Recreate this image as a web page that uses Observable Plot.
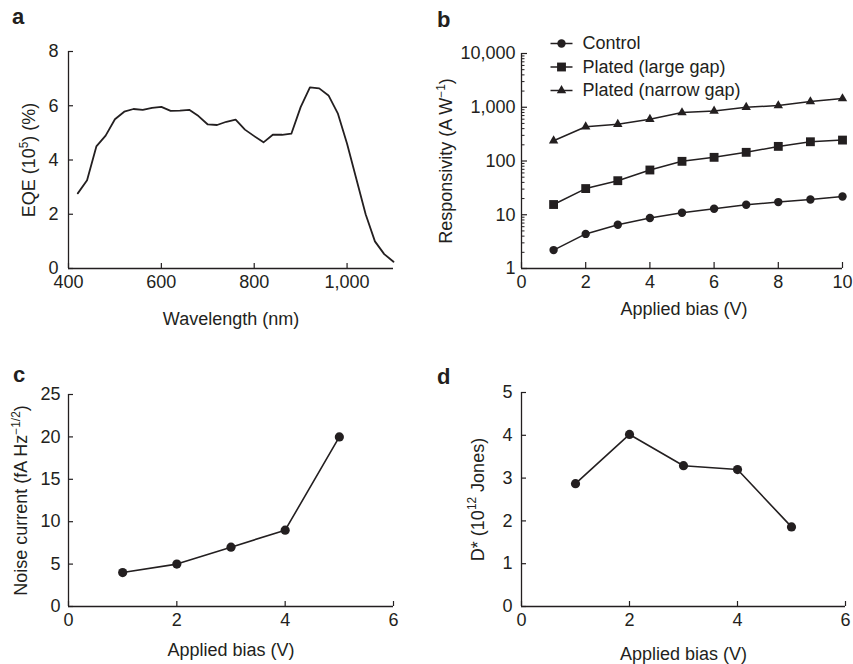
<!DOCTYPE html>
<html><head><meta charset="utf-8">
<script src="https://cdn.jsdelivr.net/npm/d3@7"></script>
<script src="https://cdn.jsdelivr.net/npm/@observablehq/plot@0.6"></script>
<style>
html,body{margin:0;padding:0;background:#fff;}
#fig{position:relative;width:853px;height:664px;font-family:"Liberation Sans",Arial,Helvetica,sans-serif;color:#231f20;overflow:hidden;background:#fff}
.panel{position:absolute}
.letter{position:absolute;font-weight:bold;font-size:22px;line-height:22px}
</style></head><body><div id="fig"></div>
<script>
// ---------- data ----------
// Panel a: EQE spectrum
const wavelength = [420,440,460,480,500,520,540,560,580,600,620,640,660,680,700,720,740,760,780,800,820,840,860,880,900,920,940,960,980,1000,1020,1040,1060,1080,1100];
const eqe = [2.77,3.25,4.5,4.9,5.5,5.78,5.88,5.85,5.92,5.96,5.81,5.82,5.85,5.62,5.31,5.29,5.41,5.49,5.12,4.88,4.65,4.93,4.93,4.97,5.95,6.68,6.64,6.38,5.72,4.6,3.3,2.0,1.0,0.53,0.25];

// Panel b: responsivity vs bias
const seriesNames = ["Control", "Plated (large gap)", "Plated (narrow gap)"];
const biasB = [1,2,3,4,5,6,7,8,9,10];
const respControl = [2.2,4.4,6.5,8.7,10.9,12.9,15.3,17.2,19.2,21.9];
const respLarge = [15.5,30.7,43,68,98.6,117,145,187,228,245];
const respNarrow = [238,433,484,600,796,855,1000,1073,1273,1450];

// Panel c: noise current
const biasC = [1,2,3,4,5];
const noise = [4,5,7,9,20];

// Panel d: detectivity
const biasD = [1,2,3,4,5];
const detectivity = [2.87,4.02,3.29,3.20,1.86];

// tick labels
const ticksAx = [400,600,800,1000], ticksAy = [0,2,4,6,8];
const ticksBx = [0,2,4,6,8,10], ticksBy = [1,10,100,1000,10000];
const ticksBminor = [0,1,2,3].flatMap(k => [2,3,4,5,6,7,8,9].map(m => m * 10 ** k));
const ticksCx = [0,2,4,6], ticksCy = [0,5,10,15,20,25];
const ticksDx = [0,2,4,6], ticksDy = [0,1,2,3,4,5];

// ---------- tables ----------
const eqeData = wavelength.map((w, i) => ({wavelength: w, eqe: eqe[i]}));
const respSeries = [respControl, respLarge, respNarrow];
const respData = respSeries.flatMap((vals, s) => vals.map((v, i) => ({series: seriesNames[s], bias: biasB[i], value: v})));
const noiseData = biasC.map((b, i) => ({bias: b, value: noise[i]}));
const detData = biasD.map((b, i) => ({bias: b, value: detectivity[i]}));

// ---------- style ----------
const INK = "#231f20";
const FONT = '"Liberation Sans", Arial, Helvetica, sans-serif';
const FS = 18;
const markerStyle = [{symbol: "circle", r: 4.2}, {symbol: "square", r: 5}, {symbol: "triangle", r: 3.5}];
const baseStyle = {fontFamily: FONT, color: INK, background: "transparent", overflow: "visible"};

function axes(xTicks, yTicks, {xPad = 7, yPad = 10, tick = 5, fmt = d3.format(",")} = {}) {
  return [
    Plot.axisX(xTicks, {anchor: "bottom", tickSize: tick, dy: -tick, tickPadding: xPad, tickFormat: fmt, fontSize: FS, strokeWidth: 1.2, label: null}),
    Plot.axisY(yTicks, {anchor: "left", tickSize: tick, dx: tick, tickPadding: yPad, tickFormat: fmt, fontSize: FS, strokeWidth: 1.2, label: null})
  ];
}
function titles(yTitle, yDx, xTitle, xDy, xDx = 0) {
  return [
    Plot.text([yTitle], {text: d => d, frameAnchor: "left", dx: yDx, rotate: -90, textAnchor: "middle", lineAnchor: "middle", fontSize: FS, fill: INK}),
    Plot.text([xTitle], {text: d => d, frameAnchor: "bottom", dx: xDx, dy: xDy, textAnchor: "middle", lineAnchor: "top", fontSize: FS, fill: INK})
  ];
}
function rich(svg, segs) {
  const plain = segs.map(s => s[0]).join("");
  d3.select(svg).selectAll("text").filter(function () { return this.textContent === plain; }).each(function () {
    const t = d3.select(this);
    t.text(null);
    let up = false;
    for (const [s, sup] of segs) {
      const ts = t.append("tspan").text(s);
      if (sup) { ts.attr("font-size", FS * 0.66); if (!up) { ts.attr("dy", -FS * 0.42); up = true; } }
      else if (up) { ts.attr("dy", FS * 0.42); up = false; }
    }
  });
}

const fig = document.getElementById("fig");
function place(el, left, top) {
  const d = document.createElement("div");
  d.className = "panel"; d.style.left = left + "px"; d.style.top = top + "px";
  d.appendChild(el); fig.appendChild(d);
}
function letter(ch, left, top) {
  const d = document.createElement("div");
  d.className = "letter"; d.textContent = ch; d.style.left = left + "px"; d.style.top = top + "px";
  fig.appendChild(d);
}

// ---------- panel a ----------
const segA = [["EQE (10", false], ["5", true], [") (%)", false]];
const plotA = Plot.plot({
  width: 420, height: 330, marginLeft: 68, marginRight: 27, marginTop: 51, marginBottom: 62,
  x: {domain: [400, 1100]}, y: {domain: [0, 8]}, style: baseStyle,
  marks: [
    Plot.ruleY([0], {stroke: INK, strokeWidth: 1.3}),
    Plot.ruleX([400], {stroke: INK, strokeWidth: 1.3}),
    ...axes(ticksAx, ticksAy, {yPad: 10}),
    Plot.line(eqeData, {x: "wavelength", y: "eqe", stroke: INK, strokeWidth: 1.8}),
    ...titles(segA.map(s => s[0]).join(""), -39, "Wavelength (nm)", 44)
  ]
});
rich(plotA, segA);
place(plotA, 0, 0);

// ---------- panel b ----------
const segB = [["Responsivity (A W", false], ["\u22121", true], [")", false]];
const legendLine = {draw(ctx, size) { const h = Math.sqrt(size / Math.PI); ctx.moveTo(-h, 0); ctx.lineTo(h, 0); }};
const legendDy = [-10, 13.5, 37];
const plotB = Plot.plot({
  width: 433, height: 330, marginLeft: 101, marginRight: 11, marginTop: 53, marginBottom: 62,
  x: {domain: [0, 10]}, y: {type: "log", domain: [1, 10000]}, style: baseStyle,
  marks: [
    Plot.ruleY([1], {stroke: INK, strokeWidth: 1.3}),
    Plot.ruleX([0], {stroke: INK, strokeWidth: 1.3}),
    ...axes(ticksBx, ticksBy, {yPad: 6, tick: 6}),
    Plot.axisY(ticksBminor, {anchor: "left", tickSize: 3.5, dx: 3.5, tickFormat: () => "", strokeWidth: 1, label: null}),
    Plot.line(respData, {x: "bias", y: "value", z: "series", stroke: INK, strokeWidth: 1.5}),
    ...seriesNames.map((name, s) => Plot.dot(respData.filter(d => d.series === name), {x: "bias", y: "value", symbol: markerStyle[s].symbol, r: markerStyle[s].r, fill: INK, stroke: "none"})),
    ...seriesNames.flatMap((name, i) => [
      Plot.dot([name], {frameAnchor: "top-left", dx: 40, dy: legendDy[i], symbol: legendLine, r: 11, stroke: INK, strokeWidth: 1.5, fill: "none"}),
      Plot.dot([name], {frameAnchor: "top-left", dx: 40, dy: legendDy[i], symbol: markerStyle[i].symbol, r: markerStyle[i].r, fill: INK, stroke: "none"}),
      Plot.text([name], {text: d => d, frameAnchor: "top-left", dx: 61, dy: legendDy[i], textAnchor: "start", lineAnchor: "middle", fontSize: FS, fill: INK})
    ]),
    ...titles(segB.map(s => s[0]).join(""), -75, "Applied bias (V)", 34, 2)
  ]
});
rich(plotB, segB);
place(plotB, 420, 0);

// ---------- panel c ----------
const segC = [["Noise current (fA Hz", false], ["\u22121/2", true], [")", false]];
const plotC = Plot.plot({
  width: 420, height: 334, marginLeft: 68, marginRight: 27, marginTop: 64, marginBottom: 58,
  x: {domain: [0, 6]}, y: {domain: [0, 25]}, style: baseStyle,
  marks: [
    Plot.ruleY([0], {stroke: INK, strokeWidth: 1.3}),
    Plot.ruleX([0], {stroke: INK, strokeWidth: 1.3}),
    ...axes(ticksCx, ticksCy, {yPad: 8}),
    Plot.line(noiseData, {x: "bias", y: "value", stroke: INK, strokeWidth: 1.6}),
    Plot.dot(noiseData, {x: "bias", y: "value", r: 4.6, fill: INK, stroke: "none"}),
    ...titles(segC.map(s => s[0]).join(""), -47, "Applied bias (V)", 37)
  ]
});
rich(plotC, segC);
place(plotC, 0, 330);

// ---------- panel d ----------
const segD = [["D* (10", false], ["12", true], [" Jones)", false]];
const plotD = Plot.plot({
  width: 433, height: 334, marginLeft: 101, marginRight: 8, marginTop: 62, marginBottom: 58,
  x: {domain: [0, 6]}, y: {domain: [0, 5]}, style: baseStyle,
  marks: [
    Plot.ruleY([0], {stroke: INK, strokeWidth: 1.3}),
    Plot.ruleX([0], {stroke: INK, strokeWidth: 1.3}),
    ...axes(ticksDx, ticksDy, {yPad: 9}),
    Plot.line(detData, {x: "bias", y: "value", stroke: INK, strokeWidth: 1.6}),
    Plot.dot(detData, {x: "bias", y: "value", r: 4.6, fill: INK, stroke: "none"}),
    ...titles(segD.map(s => s[0]).join(""), -43.5, "Applied bias (V)", 41)
  ]
});
rich(plotD, segD);
place(plotD, 420, 330);

letter("a", 12, 6);
letter("b", 437, 9);
letter("c", 13, 364);
letter("d", 437, 366);
</script>
</body></html>
